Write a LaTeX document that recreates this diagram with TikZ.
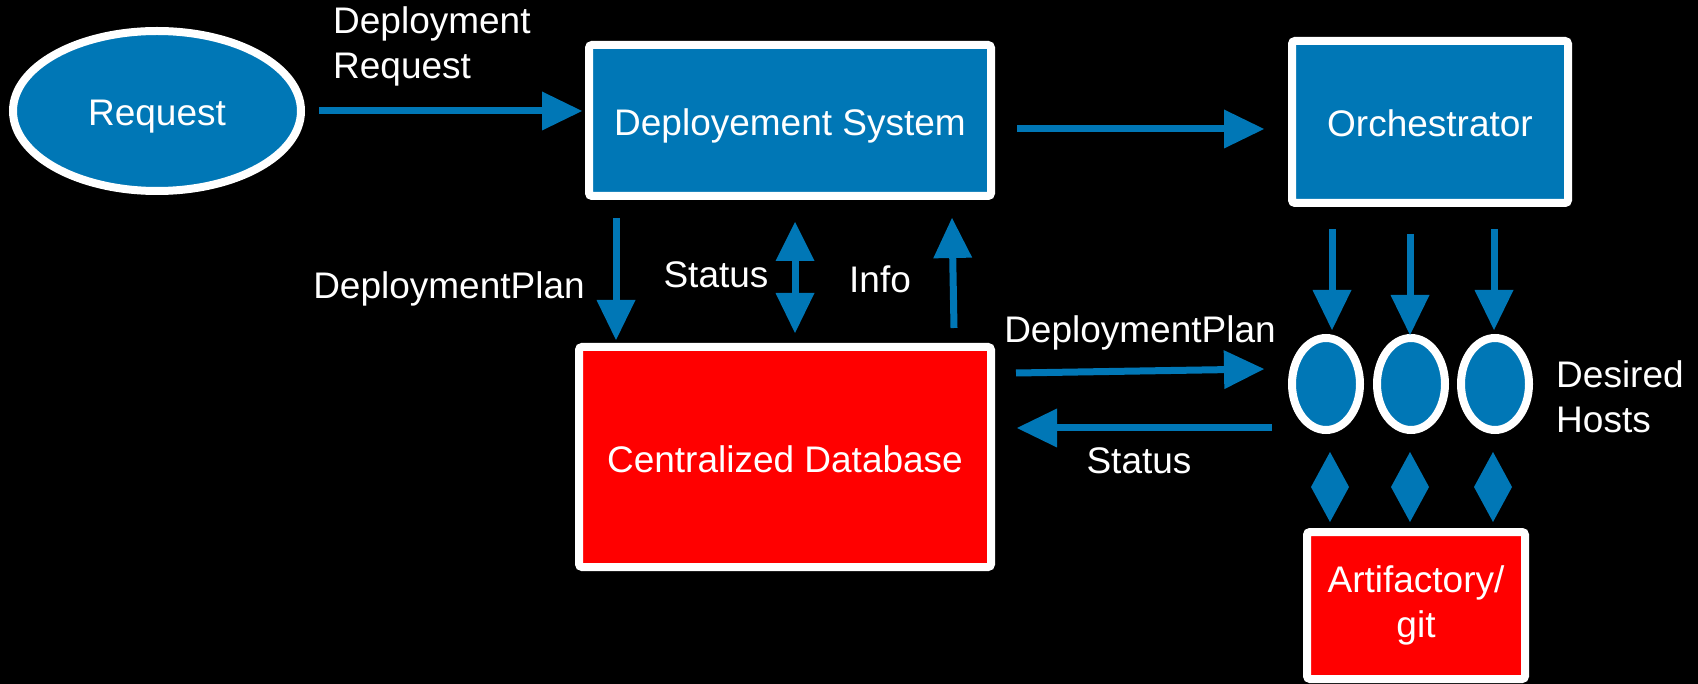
\documentclass[tikz,border=0pt]{standalone}
\usepackage{fontspec}
\setmainfont{Liberation Sans}
\usetikzlibrary{arrows.meta,shapes.geometric,calc}
\definecolor{flowblue}{HTML}{0077B6}
\definecolor{storered}{HTML}{FF0000}
\newcommand{\labfont}{\fontsize{37}{45}\selectfont}

\begin{document}
\begin{tikzpicture}[x=1pt,y=-1pt,
  every node/.style={font=\labfont, text=white},
  plate/.style={draw=white, line width=8pt, rounded corners=3pt, inner sep=0pt, outer sep=0pt},
  oneline/.style={text height=32pt, text depth=2pt},
  bluebox/.style={plate, oneline, fill=flowblue},
  redbox/.style={plate, fill=storered},
  host/.style={ellipse, draw=white, fill=flowblue, line width=8pt, inner sep=0pt, outer sep=0pt,
               minimum width=68pt, minimum height=92pt},
  tag/.style={inner sep=0pt, anchor=base},
  flow/.style={draw=flowblue, line width=7pt, -{Triangle[length=40pt,width=39pt,line width=0pt]}},
  both/.style={draw=flowblue, line width=7pt,
               {Triangle[length=39pt,width=39pt,line width=0pt]}-{Triangle[length=40pt,width=39pt,line width=0pt]}},
  link/.style={draw=flowblue, line width=7pt,
               {Triangle[length=35pt,width=38pt,line width=0pt]}-{Triangle[length=35pt,width=38pt,line width=0pt]}},
]
% canvas
\fill[black] (0,0) rectangle (1698,684);
\useasboundingbox (0,0) rectangle (1698,684);

% main blocks
\node[ellipse, draw=white, fill=flowblue, line width=8pt, inner sep=0pt, outer sep=0pt,
      minimum width=288pt, minimum height=160pt, oneline] (req) at (157,111) {Request};
\node[bluebox, minimum width=402pt, minimum height=151pt] (ds) at (790,120.5) {Deployement System};
\node[bluebox, minimum width=276pt, minimum height=162pt] (orch) at (1430,122) {Orchestrator};
\node[redbox, oneline, minimum width=412pt, minimum height=220pt] (db) at (785,457) {Centralized Database};
\node[redbox, align=center, minimum width=218pt, minimum height=147pt] (art) at (1416,605.5) {Artifactory/\\git};

% target hosts
\node[host] (h1) at (1326,384) {};
\node[host] (h2) at (1411,384) {};
\node[host] (h3) at (1495,384) {};

% labels
\node[inner sep=0pt, anchor=north west, align=left] (lreq) at (333,6) {Deployment\\Request};
\node[inner sep=0pt, anchor=north west, align=left] (lhosts) at (1556,360) {Desired\\Hosts};
\node[tag] (lplan) at (449,299) {DeploymentPlan};
\node[tag] (lstat) at (716,288) {Status};
\node[tag] (linfo) at (880,293) {Info};
\node[tag] (lplan2) at (1140,343) {DeploymentPlan};
\node[tag] (lstat2) at (1139,473) {Status};

% request flow
\draw[flow] ($(req.east)+(18,0)$) -- ($(req.east -| ds.west)+(-7,0)$);
\draw[flow] ($(ds.east)+(26,8.5)$) -- ($(orch.west)+(-28,7)$);

% deployment system <-> database
\draw[flow] ($(ds.south)+(-174,22)$) -- ($(db.north)+(-169,-7)$);
\draw[both] ($(ds.south)+(5,26)$) -- ($(db.north)+(10,-14)$);
\draw[flow] ($(db.north)+(169,-19)$) -- ($(ds.south)+(162,22)$);

% database <-> hosts
\draw[flow] ($(db.east)+(25,-84)$) -- ($(h1.west)+(-28,-15)$);
\draw[flow] ($(h1.west)+(-20,44)$) -- ($(db.east)+(26,-29)$);

% orchestrator -> hosts
\draw[flow] ($(orch.south)+(-98,26)$) -- ($(h1.north)+(6,-8)$);
\draw[flow] ($(orch.south)+(-20,31)$) -- ($(h2.north)+(-1,-3)$);
\draw[flow] ($(orch.south)+(64,26)$) -- ($(h3.north)+(-1,-8)$);

% hosts <-> artifact store
\draw[link] ($(h1.south)+(4,22)$) -- ($(art.north)+(-86,-10)$);
\draw[link] ($(h2.south)+(-1,22)$) -- ($(art.north)+(-6,-10)$);
\draw[link] ($(h3.south)+(-2,22)$) -- ($(art.north)+(77,-10)$);
\end{tikzpicture}
\end{document}
